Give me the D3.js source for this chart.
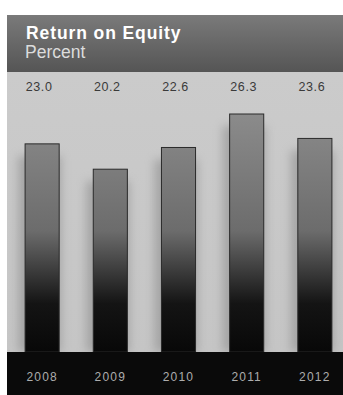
<!DOCTYPE html>
<html>
<head>
<meta charset="utf-8">
<script src="https://cdn.jsdelivr.net/npm/d3@7"></script>
<style>
  html, body { margin: 0; padding: 0; background: #ffffff; }
  svg { display: block; }
</style>
</head>
<body>
<svg id="chart" width="343" height="395"></svg>
<script>
// Return on equity by year, in percent
const years = ["2008", "2009", "2010", "2011", "2012"];
const roe = [23.0, 20.2, 22.6, 26.3, 23.6];
const valueLabels = ["23.0", "20.2", "22.6", "26.3", "23.6"];
const title = "Return on Equity";
const subtitle = "Percent";

const W = 343, H = 395;
const panelLeft = 7, panelTop = 15;
const headerBottom = 72;
const baseY = 352;
const font = "Liberation Sans, Arial, Helvetica, sans-serif";

const svg = d3.select("#chart");
const defs = svg.append("defs");

// Gradients
const hdr = defs.append("linearGradient").attr("id", "hdrGrad")
  .attr("x1", 0).attr("y1", 0).attr("x2", 0).attr("y2", 1);
hdr.append("stop").attr("offset", "0%").attr("stop-color", "#7a7a7a");
hdr.append("stop").attr("offset", "100%").attr("stop-color", "#555555");

const bg = defs.append("linearGradient").attr("id", "bgGrad")
  .attr("x1", 0).attr("y1", 0).attr("x2", 0).attr("y2", 1);
bg.append("stop").attr("offset", "0%").attr("stop-color", "#cbcbcb");
bg.append("stop").attr("offset", "100%").attr("stop-color", "#c5c5c5");

const barGrad = defs.append("linearGradient").attr("id", "barGrad")
  .attr("gradientUnits", "userSpaceOnUse")
  .attr("x1", 0).attr("y1", 110).attr("x2", 0).attr("y2", baseY);
barGrad.append("stop").attr("offset", "0%").attr("stop-color", "#8c8c8c");
barGrad.append("stop").attr("offset", "50%").attr("stop-color", "#6c6c6c");
barGrad.append("stop").attr("offset", "80%").attr("stop-color", "#141414");
barGrad.append("stop").attr("offset", "100%").attr("stop-color", "#080808");

defs.append("filter").attr("id", "soft")
  .attr("x", "-50%").attr("y", "-20%").attr("width", "200%").attr("height", "140%")
  .append("feGaussianBlur").attr("stdDeviation", 5);

// Panel background
svg.append("rect").attr("x", panelLeft).attr("y", headerBottom)
  .attr("width", W - panelLeft).attr("height", baseY - headerBottom)
  .attr("fill", "url(#bgGrad)");

// Scales
const x = d3.scaleBand().domain(years).range([-9, 366]).paddingInner(0.5).paddingOuter(0.5);
const y = d3.scaleLinear().domain([0, 26.3]).range([baseY, 114]);

const data = years.map((yr, i) => ({ year: yr, value: roe[i], label: valueLabels[i] }));

// Soft shadows behind bars
svg.append("g").selectAll("rect").data(data).join("rect")
  .attr("x", d => x(d.year) - 7)
  .attr("y", d => y(d.value) + 12)
  .attr("width", x.bandwidth() + 9)
  .attr("height", d => baseY - y(d.value) - 12)
  .attr("fill", "#888888")
  .attr("opacity", 0.55)
  .attr("filter", "url(#soft)");

// Bars
svg.append("g").selectAll("rect").data(data).join("rect")
  .attr("x", d => x(d.year))
  .attr("y", d => y(d.value))
  .attr("width", x.bandwidth())
  .attr("height", d => baseY - y(d.value))
  .attr("fill", "url(#barGrad)")
  .attr("stroke", "#2a2a2a")
  .attr("stroke-width", 1);

// Header band
svg.append("rect").attr("x", panelLeft).attr("y", panelTop)
  .attr("width", W - panelLeft).attr("height", headerBottom - panelTop)
  .attr("fill", "url(#hdrGrad)");

svg.append("text").attr("x", 26).attr("y", 39)
  .attr("font-family", font)
  .attr("font-weight", "bold").attr("font-size", 17.5)
  .attr("letter-spacing", 0.9)
  .attr("fill", "#ffffff").text(title);

svg.append("text").attr("x", 25).attr("y", 58)
  .attr("font-family", font)
  .attr("font-size", 17.5)
  .attr("fill", "#dcdcdc").text(subtitle);

// Value labels row
svg.append("g").selectAll("text").data(data).join("text")
  .attr("x", d => x(d.year) + x.bandwidth() / 2 - 3)
  .attr("y", 91)
  .attr("text-anchor", "middle")
  .attr("font-family", font)
  .attr("font-size", 12.5)
  .attr("letter-spacing", 0.6)
  .attr("fill", "#3a3a3a")
  .text(d => d.label);

// Bottom band with year axis
svg.append("rect").attr("x", panelLeft).attr("y", baseY)
  .attr("width", W - panelLeft).attr("height", H - baseY)
  .attr("fill", "#0a0a0a");

const xAxis = d3.axisBottom(x).tickSize(0).tickPadding(20);
const axisG = svg.append("g").attr("transform", `translate(0,${baseY})`).call(xAxis);
axisG.select(".domain").remove();
axisG.selectAll("text")
  .attr("font-family", font)
  .attr("font-size", 12)
  .attr("letter-spacing", 1.2)
  .attr("fill", "#adadad");
</script>
</body>
</html>
